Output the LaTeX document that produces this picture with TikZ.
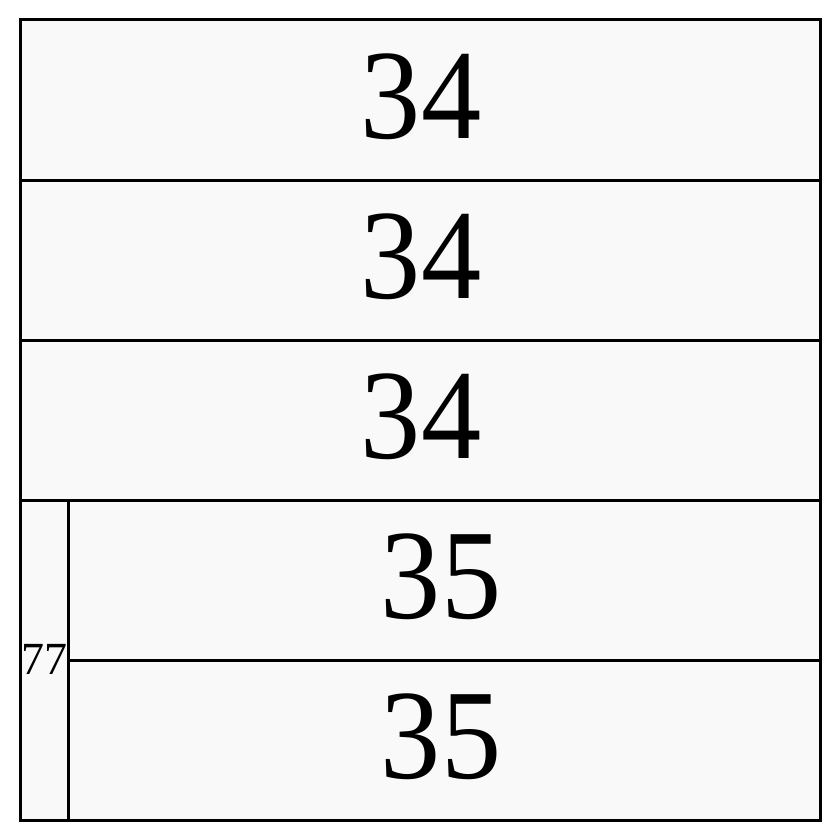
\documentclass[tikz,border=0pt]{standalone}
\usepackage{fontspec}
\setmainfont{Liberation Serif}
\begin{document}
\begin{tikzpicture}[x=1pt,y=-1pt]
		\tikzset{cell/.style = {fill = boxgray,draw = black,line width = 3pt},
			big/.style = {font = \fontsize{128}{128}\selectfont,inner sep = 0pt},
			small/.style = {font = \fontsize{46}{46}\selectfont,inner sep = 0pt}}
		\definecolor{boxgray}{HTML}{F9F9F9}
		\useasboundingbox (0,0) rectangle (840,840);
		\filldraw[cell] (20,20) rectangle (820,180);
		\filldraw[cell] (20,180) rectangle (820,340);
		\filldraw[cell] (20,340) rectangle (820,500);
		\filldraw[cell] (20,500) rectangle (68,820);
		\filldraw[cell] (68,500) rectangle (820,660);
		\filldraw[cell] (68,660) rectangle (820,820);
		\node[big,xscale = 0.94] (R1) at (421,97){34};
		\node[big,xscale = 0.94] (R2) at (421,257){34};
		\node[big,xscale = 0.94] (R3) at (421,417){34};
		\node[big,xscale = 0.94] (R4) at (441,577){35};
		\node[big,xscale = 0.94] (R5) at (441,737){35};
		\node[small] (C) at (44,659){77};
	\end{tikzpicture}
\end{document}
